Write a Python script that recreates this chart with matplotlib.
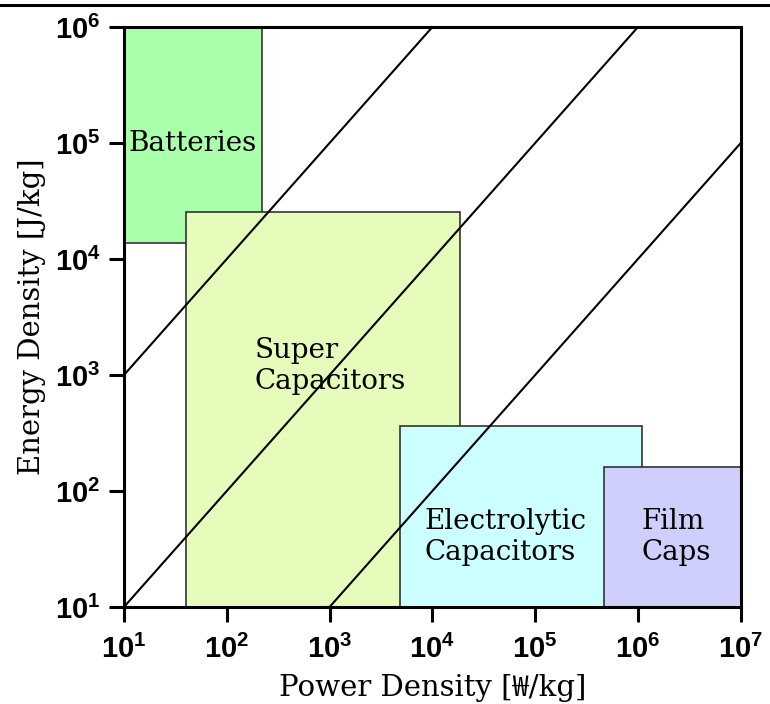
import math

import matplotlib
import matplotlib.pyplot as plt
from matplotlib.lines import Line2D
from matplotlib.patches import Rectangle
from matplotlib.ticker import FixedLocator, FuncFormatter, NullLocator

matplotlib.use('Agg')

# tick labels use bold sans, everything else sets its own serif font
plt.rcParams['font.family'] = ['Liberation Sans']
plt.rcParams['font.weight'] = 'bold'

# technology regions: power density range [W/kg], energy density range [J/kg]
names = ['Batteries', 'Super\nCapacitors', 'Electrolytic\nCapacitors', 'Film\nCaps']
power_lo = [10, 40, 4.8e3, 4.7e5]
power_hi = [221, 1.87e4, 1.1e6, 1e7]
energy_lo = [1.38e4, 10, 10, 10]
energy_hi = [1e6, 2.54e4, 363, 162]
colors = ['#aaffaa', '#e6fcba', '#ccffff', '#cfcffe']
# label anchors (power, energy) and alignment
label_x = [47, 185, 8.3e3, 1.08e6]
label_y = [1e5, 1.2e3, 40, 40]
label_ha = ['center', 'left', 'left', 'left']

# constant discharge-time lines: energy = ratio * power
time_ratios = [100, 1, 0.01]

x_decades = [1, 2, 3, 4, 5, 6, 7]
y_decades = [1, 2, 3, 4, 5, 6]

serif = ['DejaVu Serif', 'Noto Sans CJK KR']

fig = plt.figure(figsize=(7.7, 7.04), dpi=100)
ax = fig.add_axes([0.161, 0.1378, 0.801, 0.8238])
ax.set_xscale('log')
ax.set_yscale('log')
xmin, xmax = 10 ** x_decades[0], 10 ** x_decades[-1]
ymin, ymax = 10 ** y_decades[0], 10 ** y_decades[-1]
ax.set_xlim(xmin, xmax)
ax.set_ylim(ymin, ymax)

for x0, x1, y0, y1, c in zip(power_lo, power_hi, energy_lo, energy_hi, colors):
    ax.add_patch(Rectangle((x0, y0), x1 - x0, y1 - y0, facecolor=c,
                           edgecolor='#333333', linewidth=1.2, zorder=1))

for r in time_ratios:
    ax.plot([xmin, xmax], [r * xmin, r * xmax], color='black', lw=1.5, zorder=2)

for name, lx, ly, ha in zip(names, label_x, label_y, label_ha):
    ax.text(lx, ly, name, ha=ha, va='center', fontsize=20, fontweight='normal',
            family=serif, linespacing=1.2, zorder=3)

ax.xaxis.set_major_locator(FixedLocator([10.0 ** d for d in x_decades]))
ax.yaxis.set_major_locator(FixedLocator([10.0 ** d for d in y_decades]))
ax.xaxis.set_minor_locator(NullLocator())
ax.yaxis.set_minor_locator(NullLocator())
fmt = FuncFormatter(lambda v, pos: r'$\mathregular{10^{%d}}$' % round(math.log10(v)))
ax.xaxis.set_major_formatter(fmt)
ax.yaxis.set_major_formatter(fmt)
ax.tick_params(axis='both', which='major', direction='out', length=11, width=2.2,
               labelsize=21)
ax.tick_params(axis='x', pad=9)
ax.tick_params(axis='y', pad=6)

for s in ax.spines.values():
    s.set_linewidth(2.2)

ax.set_xlabel('Power Density [₩/kg]', fontsize=21, fontweight='normal',
              family=serif, labelpad=7)
ax.set_ylabel('Energy Density [J/kg]', fontsize=21, fontweight='normal',
              family=serif, labelpad=6)

# rule across the top of the figure
fig.add_artist(Line2D([0, 1], [0.993, 0.993], color='black', lw=2.2,
                      transform=fig.transFigure))

fig.savefig('out.png', dpi=100)
